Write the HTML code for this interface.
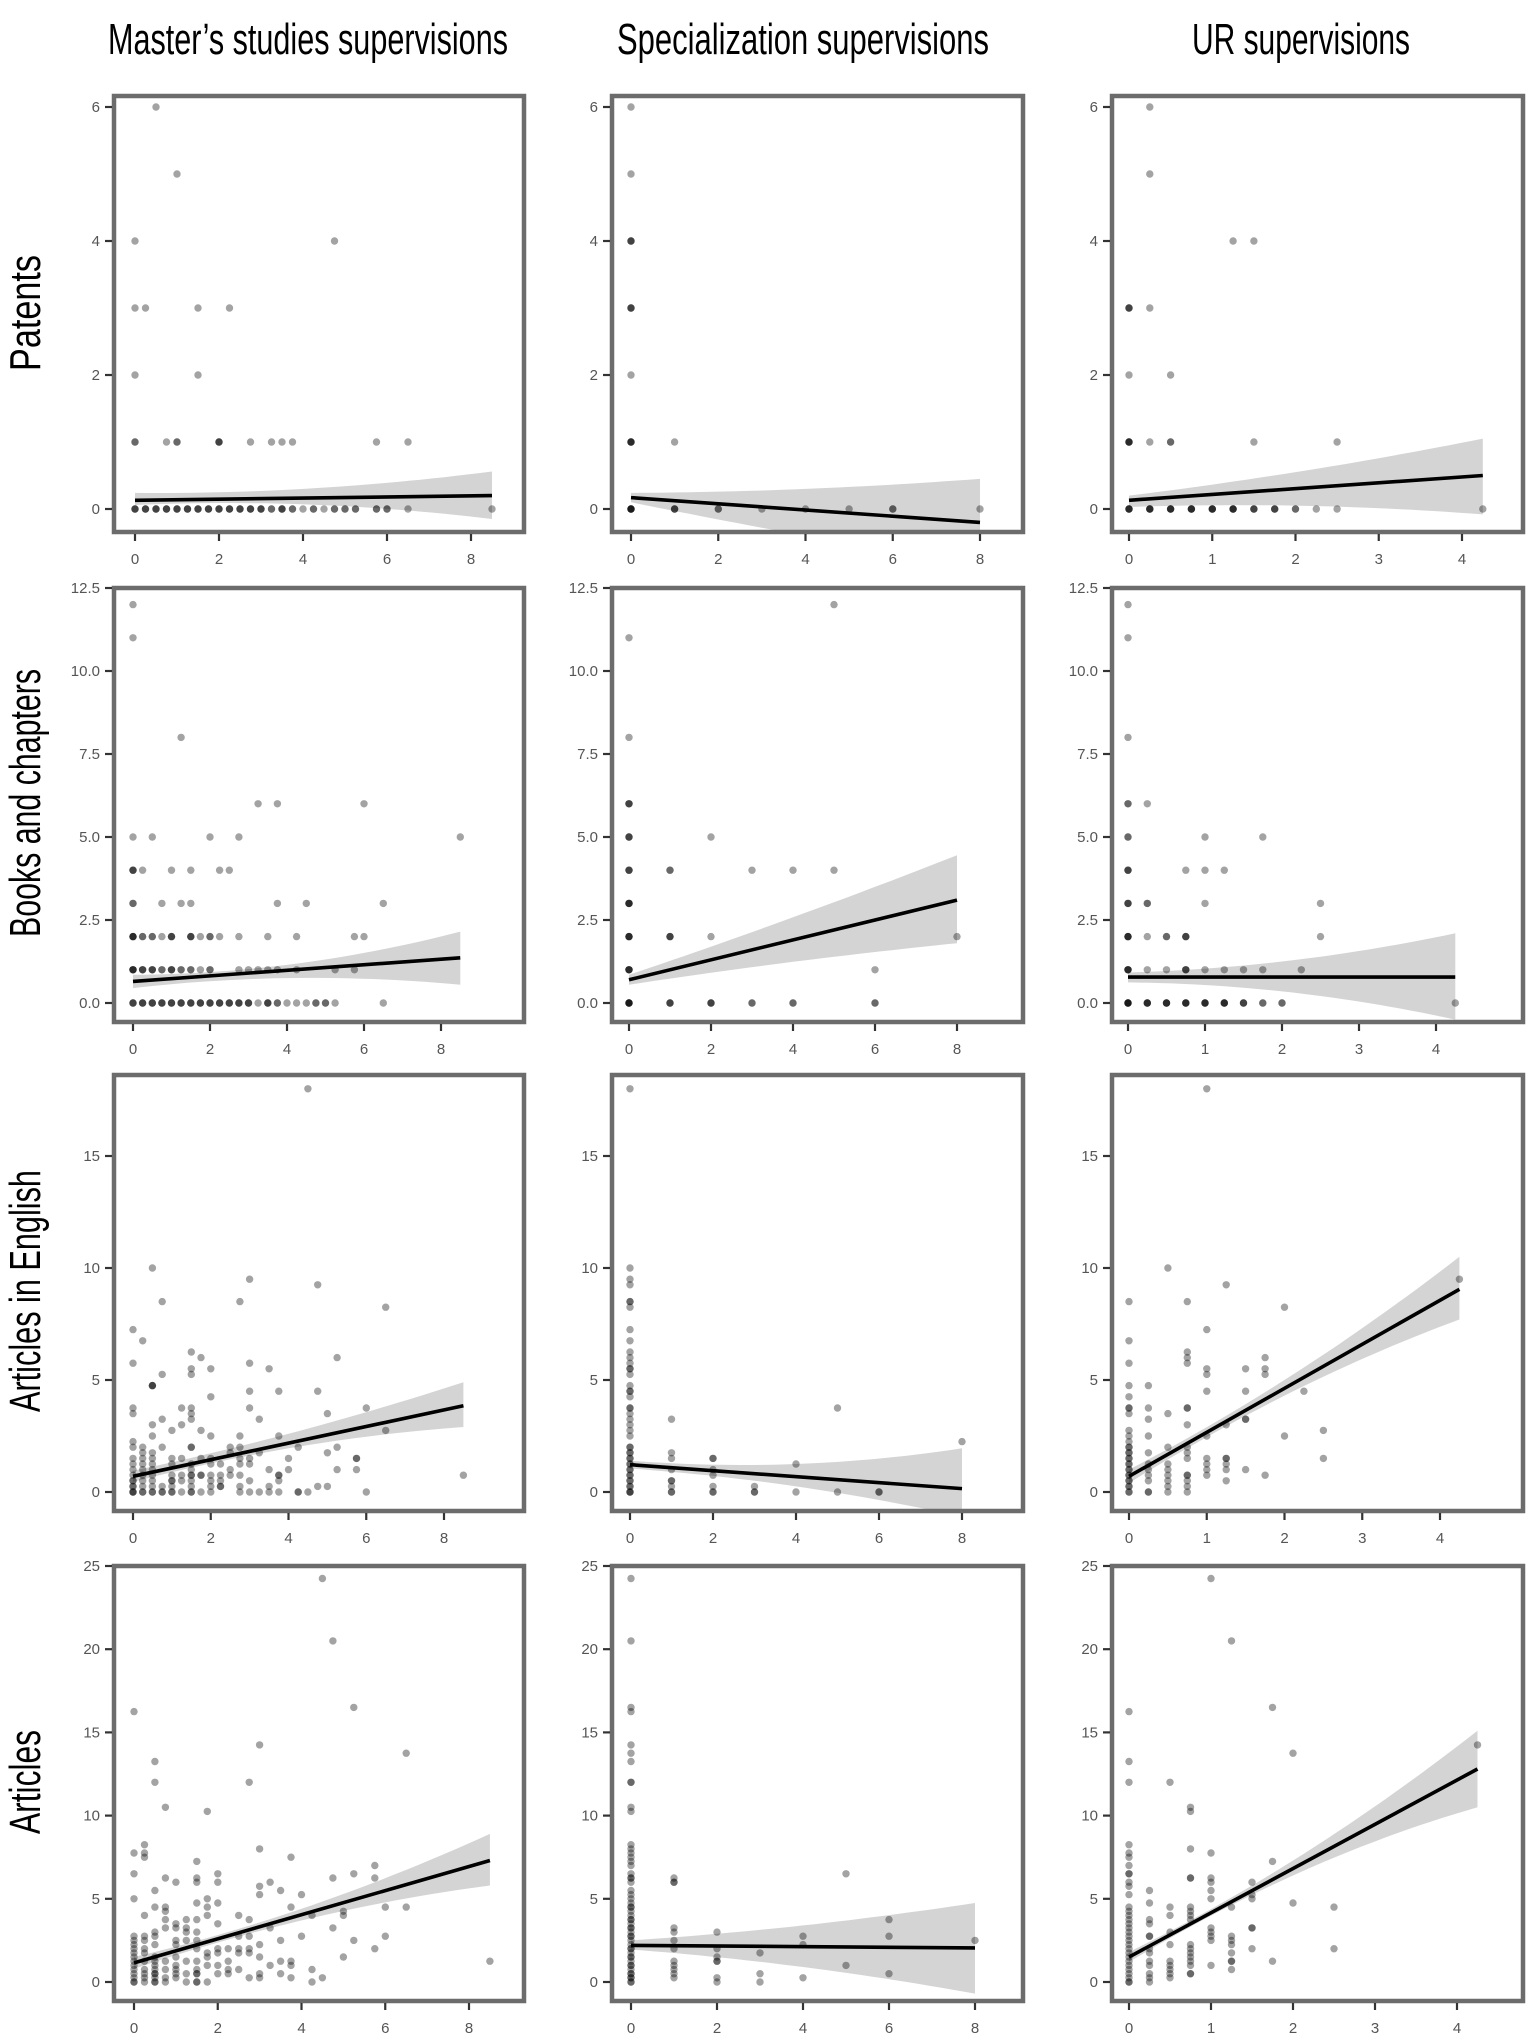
<!DOCTYPE html>
<html><head><meta charset="utf-8"><style>
html,body{margin:0;padding:0;background:#fff;}
svg{display:block;}
</style></head><body>
<svg id="fig" width="1535" height="2042" viewBox="0 0 1535 2042" xmlns="http://www.w3.org/2000/svg" font-family="Liberation Sans, sans-serif">
<rect x="0" y="0" width="1535" height="2042" fill="#fff"/>
<g font-family="'Liberation Sans Narrow','Liberation Sans',sans-serif" fill="#000" font-size="44">
<text x="108" y="54" textLength="400" lengthAdjust="spacingAndGlyphs">Master’s studies supervisions</text>
<text x="617" y="54" textLength="372" lengthAdjust="spacingAndGlyphs">Specialization supervisions</text>
<text x="1192" y="54" textLength="218" lengthAdjust="spacingAndGlyphs">UR supervisions</text>
<text transform="translate(40,371) rotate(-90)" textLength="116" lengthAdjust="spacingAndGlyphs">Patents</text>
<text transform="translate(40,937) rotate(-90)" textLength="268" lengthAdjust="spacingAndGlyphs">Books and chapters</text>
<text transform="translate(40,1412) rotate(-90)" textLength="242" lengthAdjust="spacingAndGlyphs">Articles in English</text>
<text transform="translate(40,1834) rotate(-90)" textLength="104" lengthAdjust="spacingAndGlyphs">Articles</text>
</g>
<g id="panels"></g>
</svg>
<script>
// ---------- DATA ----------
// Row-grouped: [y, [x...]]   Column-grouped: [x, [y...]]
const P11_rows = [[6,[0.5]],[5,[1]],[4,[0,4.75]],[3,[0,0.25,1.5,2.25]],[2,[0,1.5]],
 [1,[0,0,1,1,2,2,2,0.75,2.75,3.25,3.5,3.75,5.75,6.5]],
 [0,[0,0,0,0.25,0.25,0.25,0.5,0.5,0.5,0.75,0.75,0.75,1,1,1,1.25,1.25,1.25,1.5,1.5,1.5,1.75,1.75,1.75,2,2,2,2.25,2.25,2.25,2.5,2.5,2.5,2.75,2.75,2.75,3,3,3,3.25,3.25,3.5,3.5,3.5,3.75,3.75,4,4.25,4.25,4.5,4.75,4.75,5,5,5.25,5.25,5.75,5.75,6,6,6.5,8.5]]];
const P11_fitX = [0, 8.5];
const P11_fitY = [0.13, 0.2];
const P11_band = [[0,0.06,0.24],[4,0.07,0.3],[8.5,-0.15,0.56]];

const P12_cols = [[0,[6,5,4,4,4,3,3,3,2,1,1,1,1,0,0,0,0,0]],[1,[1,0,0,0]],[2,[0,0]],[3,[0]],[4,[0]],[5,[0]],[6,[0,0]],[8,[0]]];
const P12_fitX = [0, 8];
const P12_fitY = [0.17, -0.2];
const P12_band = [[0,0.1,0.24],[4,-0.4,0.3],[8,-0.85,0.45]];

const P13_rows = [[6,[0.25]],[5,[0.25]],[4,[1.25,1.5]],[3,[0,0,0,0.25]],[2,[0,0.5]],
 [1,[0,0,0,0,0.25,0.5,0.5,1.5,2.5]],
 [0,[0,0,0,0,0.25,0.25,0.25,0.25,0.5,0.5,0.5,0.5,0.75,0.75,0.75,0.75,1,1,1,1,1.25,1.25,1.25,1.25,1.5,1.5,1.5,1.75,1.75,1.75,2,2,2.25,2.5,4.25]]];
const P13_fitX = [0, 4.25];
const P13_fitY = [0.13, 0.5];
const P13_band = [[0,0.03,0.2],[2,0.05,0.55],[4.25,-0.08,1.05]];

const P21_rows = [[12,[0]],[11,[0]],[8,[1.25]],[6,[3.25,3.75,6]],[5,[0,0.5,2,2.75,8.5]],
 [4,[0,0,0,0.25,1,1.5,2.25,2.5]],[3,[0,0,0.75,1.25,1.5,3.75,4.5,6.5]],
 [2,[0,0,0,0,0.25,0.25,0.5,0.5,0.75,1,1,1,1.5,1.5,1.5,1.75,2,2,2.25,2.75,3.5,4.25,5.75,6]],
 [1,[0,0,0,0,0.25,0.25,0.25,0.5,0.5,0.5,0.75,0.75,1,1,1,1.25,1.25,1.5,1.5,1.75,2,2,2.75,3,3.25,3.5,3.75,4.25,5.25,5.75]],
 [0,[0,0,0,0.25,0.25,0.25,0.5,0.5,0.5,0.75,0.75,0.75,1,1,1,1.25,1.25,1.25,1.5,1.5,1.5,1.75,1.75,1.75,2,2,2,2.25,2.25,2.25,2.5,2.5,2.5,2.75,2.75,2.75,3,3,3,3.25,3.5,3.5,3.5,3.75,3.75,4,4.25,4.5,4.75,4.75,5,5,5.25,6.5]]];
const P21_fitX = [0, 8.5];
const P21_fitY = [0.65, 1.36];
const P21_band = [[0,0.45,0.85],[4,0.75,1.15],[8.5,0.55,2.15]];

const P22_cols = [[0,[11,8,6,6,6,5,5,5,4,4,4,3,3,3,3,2,2,2,2,1,1,1,1,0,0,0,0,0]],[1,[4,4,2,2,2,0,0,0]],[2,[5,2,0,0,0]],[3,[4,0,0]],[4,[4,0,0]],[5,[12,4]],[6,[1,0,0]],[8,[2]]];
const P22_fitX = [0, 8];
const P22_fitY = [0.7, 3.1];
const P22_band = [[0,0.55,0.85],[4,1.24,2.58],[8,1.8,4.45]];

const P23_cols = [[0,[12,11,8,6,6,5,5,4,4,4,3,3,3,2,2,2,2,1,1,1,1,0,0,0,0,0]],[0.25,[6,3,3,2,1,0,0,0,0]],[0.5,[2,2,1,0,0,0,0]],[0.75,[4,2,2,2,1,1,1,0,0,0,0]],
 [1,[5,4,3,1,0,0,0,0]],[1.25,[4,1,0,0,0,0]],[1.5,[1,0,0,0]],[1.75,[5,1,0,0]],[2,[0,0]],[2.25,[1]],[2.5,[3,2]],[4.25,[0]]];
const P23_fitX = [0, 4.25];
const P23_fitY = [0.78, 0.78];
const P23_band = [[0,0.62,0.92],[2,0.35,1.25],[4.25,-0.5,2.1]];

const P31_rows = [[18,[4.5]],[10,[0.5]],[9.5,[3]],[9.25,[4.75]],[8.5,[0.75,2.75]],[8.25,[6.5]],[7.25,[0]],[6.75,[0.25]],[6.25,[1.5]],[6,[1.75,5.25]],
 [5.75,[0,3]],[5.5,[1.5,2,3.5]],[5.25,[0.75,1.5]],[4.75,[0.5,0.5,0.5]],[4.5,[3,3.75,4.75]],[4.25,[2]],[3.75,[0,1.25,1.5,3,6]],[3.5,[0,1.5,5]],
 [3.25,[0.75,1.5,3.25]],[3,[0.5,1.25]],[2.75,[1,1.75,6.5]],[2.5,[0.5,2,2.75,3.75]],[2.25,[0]],[2,[0,0.25,0.75,1.5,1.5,2.5,2.75,4.25,5.25]],
 [1.75,[0.25,0.5,2.5,3.25,5]],[1.5,[0,0.25,0.5,1,1.25,1.75,2,2.75,3,4,5.75,5.75]],[1.25,[0,0.25,0.5,1,1.5,2,2.25,2.75,3]],
 [1,[0,0.25,0.5,1.5,2.5,3.5,4,5.25,5.75]],[0.75,[0,0.25,0.5,1,1.25,1.5,1.5,1.75,1.75,2,2.25,2.5,2.75,3.75,3.75,8.5]],
 [0.5,[0,0,0.25,0.5,1,1,1.25,1.5,2,2.25,3,3.75]],[0.25,[0,0,0.25,0.5,0.75,1,1.5,2,2.25,2.25,2.75,3.5,4.75,5]],
 [0,[0,0,0,0.25,0.25,0.5,0.5,0.75,0.75,1,1,1.25,1.5,1.5,1.75,2,2.75,3,3.25,3.5,3.75,4.25,4.25,4.5,6]]];
const P31_fitX = [0, 8.5];
const P31_fitY = [0.7, 3.85];
const P31_band = [[0,0.45,0.95],[4,1.95,2.6],[8.5,2.9,4.9]];

const P32_cols = [[0,[18,10,9.5,9.25,8.5,8.5,8.25,7.25,6.75,6.25,6,5.75,5.5,5.5,5.25,4.75,4.5,4.5,4.25,3.75,3.75,3.5,3.25,3,2.75,2.5,2,2,1.75,1.75,1.5,1.5,1.25,1.25,1,1,0.75,0.75,0.5,0.5,0.25,0.25,0,0,0]],
 [1,[3.25,1.75,1.5,1,0.5,0.5,0.25,0,0]],[2,[1.5,1.5,1,0.75,0.25,0,0]],[3,[0.25,0,0]],[4,[1.25,0]],[5,[3.75,0]],[6,[0,0]],[8,[2.25]]];
const P32_fitX = [0, 8];
const P32_fitY = [1.22, 0.15];
const P32_band = [[0,1.05,1.4],[4,0.25,1.25],[8,-1.1,1.95]];

const P33_cols = [[0,[8.5,6.75,5.75,4.75,4.25,3.75,3.75,3.5,2.75,2.5,2.25,2,2,1.75,1.75,1.5,1.5,1.25,1.25,1,1,0.75,0.75,0.5,0.5,0.25,0.25,0,0]],
 [0.25,[4.75,3.75,3.25,2.5,1.75,1.25,1,0.75,0.5,0,0]],[0.5,[10,3.5,2,1.25,1,0.75,0.5,0.25,0]],
 [0.75,[8.5,6.25,6,5.75,3.75,3.75,3,2,1.75,1.5,0.75,0.75,0.5,0.25,0]],[1,[18,7.25,5.5,5.25,4.5,2.5,1.5,1.25,1,0.75]],
 [1.25,[9.25,3,1.5,1.5,1.25,1,0.5]],[1.5,[5.5,4.5,3.25,3.25,1]],[1.75,[6,5.5,5.25,0.75]],[2,[8.25,2.5]],[2.25,[4.5]],[2.5,[2.75,1.5]],[4.25,[9.5]]];
const P33_fitX = [0, 4.25];
const P33_fitY = [0.7, 9.05];
const P33_band = [[0,0.4,1.0],[2,4.3,5.0],[4.25,7.7,10.5]];

const P41_rows = [[24.25,[4.5]],[20.5,[4.75]],[16.5,[5.25]],[16.25,[0]],[14.25,[3]],[13.75,[6.5]],[13.25,[0.5]],[12,[0.5,2.75]],[10.5,[0.75]],[10.25,[1.75]],
 [8.25,[0.25]],[8,[3]],[7.75,[0,0.25]],[7.5,[0.25,3.75]],[7.25,[1.5]],[7,[5.75]],[6.5,[0,2,5.25]],[6.25,[0.75,1.5,4.75,5.75]],[6,[1,1.5,2,3.25]],
 [5.75,[3]],[5.5,[0.5,3.5]],[5.25,[3,4]],[5,[0,1.75]],[4.75,[1.5,2]],[4.5,[0.5,0.75,1.75,3.75,6,6.5]],[4.25,[0.75,5]],[4,[0.25,1.75,2.5,4.25,5]],
 [3.75,[0.75,1.25,1.5,2.75]],[3.5,[1,2]],[3.25,[0.75,1,1.25,3.25,4.75]],[3,[0.5,1.25,1.5]],[2.75,[0,0.25,0.5,2.5,2.75,4,6]],
 [2.5,[0,0.25,1,1.25,1.5,3.5,5.25]],[2.25,[0,0.5,1,3]],[2,[0,0.25,1.5,2,2.25,2.5,2.75,5.75]],[1.75,[0,0.25,1.75,2,2.5,2.75]],
 [1.5,[0,0.5,1,1.75,3,5]],[1.25,[0,0.25,0.5,0.75,1.25,1.5,2.25,3.5,3.75,8.5]],[1,[0,0.5,1,1.75,2,3.25,3.75]],
 [0.75,[0,0.25,0.5,0.75,1,1.5,2.25,2.5,4.25]],[0.5,[0,0.25,0.5,0.5,1,1.25,1.5,1.5,2,2.25,3,3.5]],[0.25,[0,0.25,0.5,0.75,1,2.75,3,3.75,4.5]],
 [0,[0,0,0.25,0.5,0.5,0.75,1.25,1.5,1.5,1.75,4.25]]];
const P41_fitX = [0, 8.5];
const P41_fitY = [1.15, 7.3];
const P41_band = [[0,0.8,1.5],[4,3.7,4.4],[8.5,5.8,8.9]];

const P42_cols = [[0,[24.25,20.5,16.5,16.25,14.25,13.75,13.25,12,12,10.5,10.25,8.25,8,7.75,7.5,7.25,7,6.5,6.25,6.25,6,5.5,5.25,5,4.75,4.5,4.5,4.25,4,3.75,3.75,3.5,3.25,3.25,3,2.75,2.75,2.5,2.25,2,2,1.75,1.5,1.5,1.25,1,1,0.75,0.5,0.5,0.25,0.25,0,0]],
 [1,[6.25,6,6,3.25,3,2.5,2,1.25,1,0.75,0.5,0.25]],[2,[3,2,1.5,1.25,1.25,0.25,0]],[3,[1.75,0.5,0]],[4,[2.75,2.25,0.25]],[5,[6.5,1]],[6,[3.75,2.75,0.5]],[8,[2.5]]];
const P42_fitX = [0, 8];
const P42_fitY = [2.2, 2.05];
const P42_band = [[0,1.95,2.5],[4,0.9,3.4],[8,-0.7,4.75]];

const P43_cols = [[0,[16.25,13.25,12,8.25,7.75,7.5,7,6.5,6.5,6,5.75,5.25,4.5,4.25,4,3.75,3.5,3.25,3,2.75,2.5,2.25,2,1.75,1.5,1.25,1,0.75,0.5,0.25,0,0]],
 [0.25,[5.5,4.75,3.75,3.5,2.75,2.75,2,1.75,1.25,1,0.5,0.25,0]],[0.5,[12,4.5,4,3,2.25,1.25,1,0.75,0.5,0.25]],
 [0.75,[10.5,10.25,8,6.25,6.25,4.5,4.25,4,3.75,2.25,2,1.75,1.5,1.25,1,0.5,0.5]],[1,[24.25,7.75,6.25,6,5.5,5,3.25,3,2.75,2.5,1]],
 [1.25,[20.5,4.5,2.75,2.5,2.25,1.75,1.25,1.25,0.75]],[1.5,[6,5.25,5,3.25,3.25,2]],[1.75,[16.5,7.25,1.25]],[2,[13.75,4.75]],[2.5,[4.5,2]],[4.25,[14.25]]];
const P43_fitX = [0, 4.25];
const P43_fitY = [1.5, 12.8];
const P43_band = [[0,1.2,1.8],[2,6.4,7.3],[4.25,10.5,15.1]];

const yTicksPatents = [0,2,4,6];
const yTicksBooks = [0,2.5,5,7.5,10,12.5];
const yTicksEnglish = [0,5,10,15];
const yTicksArticles = [0,5,10,15,20,25];
const xTicksWide = [0,2,4,6,8];
const xTicksUR = [0,1,2,3,4];

// ---------- LAYOUT (pixels) ----------
const colL = [114,612,1112], colR = [524,1023,1523];
const rowT = [96,588,1075,1566], rowB = [532,1022,1511,2001];

function rowsToPts(rows){const o=[];rows.forEach(r=>r[1].forEach(x=>o.push([x,r[0]])));return o;}
function colsToPts(cols){const o=[];cols.forEach(c=>c[1].forEach(y=>o.push([c[0],y])));return o;}

const panels = [
 {r:0,c:0,pts:rowsToPts(P11_rows),fx:P11_fitX,fy:P11_fitY,band:P11_band,yt:yTicksPatents,xt:xTicksWide,ya:[0,509,6,107],xa:[0,135,8,471],dec:0,name:'patents-masters'},
 {r:0,c:1,pts:colsToPts(P12_cols),fx:P12_fitX,fy:P12_fitY,band:P12_band,yt:yTicksPatents,xt:xTicksWide,ya:[0,509,6,107],xa:[0,631,8,980],dec:0,name:'patents-specialization'},
 {r:0,c:2,pts:rowsToPts(P13_rows),fx:P13_fitX,fy:P13_fitY,band:P13_band,yt:yTicksPatents,xt:xTicksUR,ya:[0,509,6,107],xa:[0,1129,4,1462],dec:0,name:'patents-ur'},
 {r:1,c:0,pts:rowsToPts(P21_rows),fx:P21_fitX,fy:P21_fitY,band:P21_band,yt:yTicksBooks,xt:xTicksWide,ya:[0,1003,12.5,588],xa:[0,133,8,441],dec:1,name:'books-masters'},
 {r:1,c:1,pts:colsToPts(P22_cols),fx:P22_fitX,fy:P22_fitY,band:P22_band,yt:yTicksBooks,xt:xTicksWide,ya:[0,1003,12.5,588],xa:[0,629,8,957],dec:1,name:'books-specialization'},
 {r:1,c:2,pts:colsToPts(P23_cols),fx:P23_fitX,fy:P23_fitY,band:P23_band,yt:yTicksBooks,xt:xTicksUR,ya:[0,1003,12.5,588],xa:[0,1128,4,1436],dec:1,name:'books-ur'},
 {r:2,c:0,pts:rowsToPts(P31_rows),fx:P31_fitX,fy:P31_fitY,band:P31_band,yt:yTicksEnglish,xt:xTicksWide,ya:[0,1492,15,1156],xa:[0,133,8,444],dec:0,name:'english-masters'},
 {r:2,c:1,pts:colsToPts(P32_cols),fx:P32_fitX,fy:P32_fitY,band:P32_band,yt:yTicksEnglish,xt:xTicksWide,ya:[0,1492,15,1156],xa:[0,630,8,962],dec:0,name:'english-specialization'},
 {r:2,c:2,pts:colsToPts(P33_cols),fx:P33_fitX,fy:P33_fitY,band:P33_band,yt:yTicksEnglish,xt:xTicksUR,ya:[0,1492,15,1156],xa:[0,1129,4,1440],dec:0,name:'english-ur'},
 {r:3,c:0,pts:rowsToPts(P41_rows),fx:P41_fitX,fy:P41_fitY,band:P41_band,yt:yTicksArticles,xt:xTicksWide,ya:[0,1982,25,1566],xa:[0,134,8,469],dec:0,name:'articles-masters'},
 {r:3,c:1,pts:colsToPts(P42_cols),fx:P42_fitX,fy:P42_fitY,band:P42_band,yt:yTicksArticles,xt:xTicksWide,ya:[0,1982,25,1566],xa:[0,631,8,975],dec:0,name:'articles-specialization'},
 {r:3,c:2,pts:colsToPts(P43_cols),fx:P43_fitX,fy:P43_fitY,band:P43_band,yt:yTicksArticles,xt:xTicksUR,ya:[0,1982,25,1566],xa:[0,1129,4,1457],dec:0,name:'articles-ur'}
];

const NS='http://www.w3.org/2000/svg';
const root=document.getElementById('panels');
const defs=document.createElementNS(NS,'defs');root.appendChild(defs);
function mk(tag,attrs,parent){const e=document.createElementNS(NS,tag);for(const k in attrs)e.setAttribute(k,attrs[k]);parent.appendChild(e);return e;}

panels.forEach((p,i)=>{
 const L=colL[p.c],R=colR[p.c],T=rowT[p.r],B=rowB[p.r];
 const sx=v=>p.xa[1]+(v-p.xa[0])*(p.xa[3]-p.xa[1])/(p.xa[2]-p.xa[0]);
 const sy=v=>p.ya[1]+(v-p.ya[0])*(p.ya[3]-p.ya[1])/(p.ya[2]-p.ya[0]);
 const g=mk('g',{},root);
 
 
 const cp=mk('clipPath',{id:'cp'+i},defs);
 mk('rect',{x:L,y:T,width:R-L,height:B-T},cp);
 const plot=mk('g',{'clip-path':'url(#cp'+i+')'},g);
 // CI band (quadratic through 3 samples)
 const b=p.band;
 let top='',bot='';
 const N=30;
 function interp(x,idx){const [x0,x1,x2]=[b[0][0],b[1][0],b[2][0]];const [y0,y1,y2]=[b[0][idx],b[1][idx],b[2][idx]];
  return y0*(x-x1)*(x-x2)/((x0-x1)*(x0-x2))+y1*(x-x0)*(x-x2)/((x1-x0)*(x1-x2))+y2*(x-x0)*(x-x1)/((x2-x0)*(x2-x1));}
 const pts=[];
 for(let k=0;k<=N;k++){const x=b[0][0]+(b[2][0]-b[0][0])*k/N;pts.push([sx(x),sy(interp(x,2))]);}
 for(let k=N;k>=0;k--){const x=b[0][0]+(b[2][0]-b[0][0])*k/N;pts.push([sx(x),sy(interp(x,1))]);}
 const band=mk('polygon',{points:pts.map(q=>q[0].toFixed(1)+','+q[1].toFixed(1)).join(' '),fill:'#d4d4d4'},plot);
 
 
 // points
 const pg=mk('g',{},plot);
 
 
 p.pts.forEach(q=>{
  const c=mk('circle',{cx:sx(q[0]).toFixed(1),cy:sy(q[1]).toFixed(1),r:3.7,fill:'#000','fill-opacity':0.36},pg);
  
  
 });
 // regression line
 const ln=mk('line',{x1:sx(p.fx[0]),y1:sy(p.fy[0]),x2:sx(p.fx[1]),y2:sy(p.fy[1]),stroke:'#000','stroke-width':3.6},plot);
 
 
 // frame
 const fr=mk('rect',{x:L,y:T,width:R-L,height:B-T,fill:'none',stroke:'#6c6c6c','stroke-width':4.5},g);
 
 
 // y ticks
 p.yt.forEach(v=>{
  const y=sy(v);
  mk('line',{x1:L-9,x2:L-2,y1:y,y2:y,stroke:'#333','stroke-width':2.2},g);
  const t=mk('text',{x:L-14,y:y+5,'text-anchor':'end','font-size':15,fill:'#555'},g);
  t.textContent=p.dec?v.toFixed(1):String(v);
  
  
 });
 // x ticks
 p.xt.forEach(v=>{
  const x=sx(v);
  mk('line',{x1:x,x2:x,y1:B+2,y2:B+9,stroke:'#333','stroke-width':2.2},g);
  const t=mk('text',{x:x,y:B+32,'text-anchor':'middle','font-size':15,fill:'#555'},g);
  t.textContent=String(v);
  
  
 });
});
</script>
</body></html>
